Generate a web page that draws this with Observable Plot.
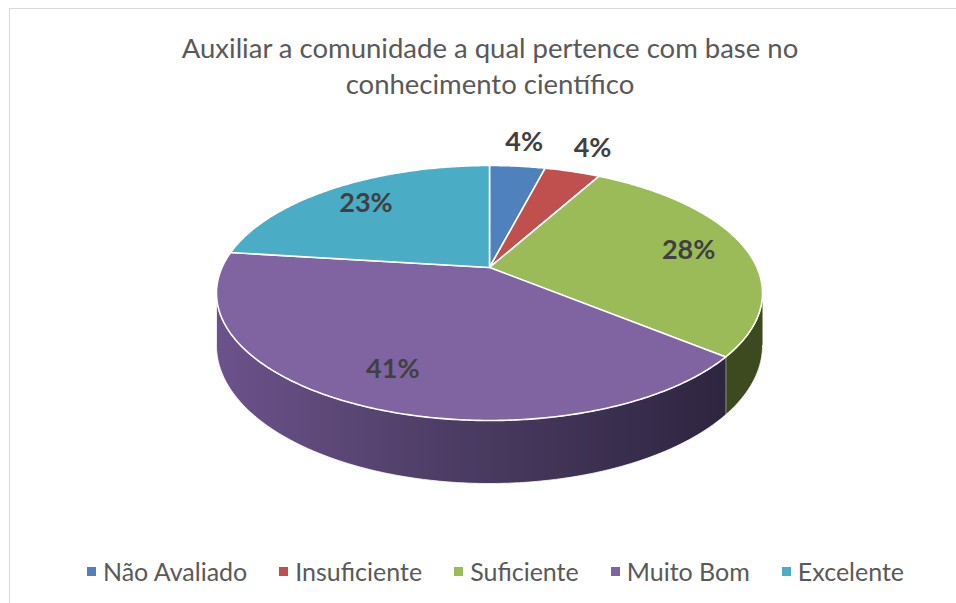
<!DOCTYPE html>
<html>
<head>
<meta charset="utf-8">
<script src="https://cdn.jsdelivr.net/npm/d3@7"></script>
<script src="https://cdn.jsdelivr.net/npm/@observablehq/plot@0.6"></script>
<style>
html, body { margin: 0; padding: 0; background: #fff; overflow: hidden; }
body { width: 956px; height: 603px; position: relative; font-family: Lato, "Open Sans", sans-serif; }
#frame { position: absolute; left: 9px; top: 8px; width: 1000px; height: 700px; border: 1px solid #d9d9d9; box-sizing: border-box; }
#title { position: absolute; left: 0; top: 30px; width: 980px; text-align: center; color: #595959; font-size: 27.5px; line-height: 36px; }
#chart { position: absolute; left: 0; top: 110px; }
#legend { position: absolute; left: 0; top: 556px; width: 991px; display: flex; justify-content: center; align-items: center; color: #595959; font-size: 25px; line-height: 30px; }
#legend .item { display: flex; align-items: center; margin: 0 16px; }
#legend .sw { width: 9px; height: 9px; margin-right: 7px; }
</style>
</head>
<body>
<div id="frame"></div>
<div id="title"></div>
<div id="chart"></div>
<div id="legend"></div>
<script>
// ---- data ----
const categories = ["Não Avaliado", "Insuficiente", "Suficiente", "Muito Bom", "Excelente"];
const values = [4, 4, 28, 41, 23];
const topColors = ["#4f81bd", "#c0504d", "#9bbb59", "#8064a2", "#4bacc6"];
const sideColors = ["#2c4a6e", "#6e2d2b", "#3d4a20", "url(#sidePurple)", "#2a6371"];
const titleLines = ["Auxiliar a comunidade a qual pertence com base no", "conhecimento científico"];

// ---- 3D pie geometry (layout constants) ----
const A = 267.5, B = 122.4, K = 0.2, H = 50.4;
function proj(t, r) {
  const d = 1 + K * r * Math.cos(t);
  return [A * r * Math.sin(t) / d, -B * r * Math.cos(t) / d];
}
const total = d3.sum(values);
const arcs = d3.pie().sort(null).value(d => d)(values);

const topPts = [];
const sidePts = [];
const labels = [];
const tR = Math.acos(-K), tL = 2 * Math.PI - Math.acos(-K);
arcs.forEach((a, i) => {
  const cat = categories[i];
  const n = Math.max(2, Math.ceil((a.endAngle - a.startAngle) / 0.01));
  topPts.push({cat, x: 0, y: 0});
  for (let j = 0; j <= n; j++) {
    const t = a.startAngle + (a.endAngle - a.startAngle) * j / n;
    const [x, y] = proj(t, 1);
    topPts.push({cat, x, y});
  }
  topPts.push({cat, x: 0, y: 0});
  const s = Math.max(a.startAngle, tR), e = Math.min(a.endAngle, tL);
  if (s < e) {
    const m = Math.max(2, Math.ceil((e - s) / 0.01));
    for (let j = 0; j <= m; j++) {
      const t = s + (e - s) * j / m;
      const [x, y] = proj(t, 1);
      sidePts.push({cat, x, y});
    }
    for (let j = m; j >= 0; j--) {
      const t = s + (e - s) * j / m;
      const [x, y] = proj(t, 1);
      sidePts.push({cat, x, y: y + H / (1 + K * Math.cos(t))});
    }
  }
  const frac = a.value / total;
  const mid = (a.startAngle + a.endAngle) / 2;
  const rho = frac < 0.06 ? 1.3 : 0.78;
  const [lx, ly] = proj(mid, rho);
  labels.push({x: lx, y: ly, text: d3.format(".0%")(frac)});
});

const plot = Plot.plot({
  width: 956,
  height: 420,
  margin: 0,
  style: {background: "transparent", overflow: "visible"},
  x: {domain: [-489, 467], range: [0, 956], axis: null},
  y: {domain: [-157, 263], range: [0, 420], axis: null},
  color: {domain: categories, range: topColors},
  marks: [
    ...categories.map((c, i) => Plot.line(sidePts.filter(d => d.cat === c), {
      x: "x", y: "y", fill: sideColors[i], stroke: "#ffffff", strokeWidth: 1, strokeOpacity: 0.8
    })),
    Plot.line(topPts, {x: "x", y: "y", z: "cat", fill: "cat", stroke: "#ffffff", strokeWidth: 1.6, strokeLinejoin: "round"}),
    Plot.text(labels, {x: "x", y: "y", text: "text", fontSize: 27, fontWeight: "bold", fill: "#404040", fontFamily: "Lato, sans-serif"})
  ]
});

// gradient for the shaded side
const svg = d3.select(plot);
const defs = svg.insert("defs", ":first-child");
const g = defs.append("linearGradient").attr("id", "sidePurple").attr("x1", "0").attr("x2", "1").attr("y1", "0").attr("y2", "0");
g.append("stop").attr("offset", "0%").attr("stop-color", "#6c528b");
g.append("stop").attr("offset", "45%").attr("stop-color", "#4d3d65");
g.append("stop").attr("offset", "100%").attr("stop-color", "#2e2540");

document.getElementById("chart").appendChild(plot);

d3.select("#title").selectAll("div").data(titleLines).join("div").text(d => d);

const items = d3.select("#legend").selectAll(".item").data(categories).join("div").attr("class", "item");
items.append("div").attr("class", "sw").style("background", (d, i) => topColors[i]);
items.append("span").text(d => d);
</script>
</body>
</html>
